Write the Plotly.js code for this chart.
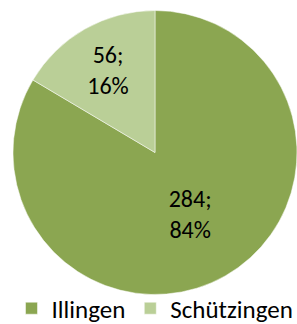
<!DOCTYPE html>
<html>
<head>
<meta charset="utf-8">
<script src="https://cdn.plot.ly/plotly-3.0.1.min.js"></script>
<style>html,body{margin:0;padding:0;background:#fff;}#chart{width:297px;height:324px;}</style>
</head>
<body>
<div id="chart"></div>
<script>
const labels = ["Illingen", "Schützingen"];
const values = [284, 56];
const percents = [84, 16];
const colors = ["#8BA651", "#BACF97"];

const texts = values.map((v, i) => v + ";<br>" + percents[i] + "%");

const data = [{
  type: "pie",
  labels: labels,
  values: values,
  text: texts,
  textinfo: "text",
  textposition: "inside",
  insidetextorientation: "horizontal",
  sort: false,
  direction: "clockwise",
  rotation: 0,
  hole: 0,
  marker: {colors: colors, line: {color: "#ffffff", width: 0.5}},
  textfont: {family: "Carlito, Calibri, 'Liberation Sans', Arial, sans-serif", size: 24, color: "#000000"},
  domain: {x: [0, 1], y: [0, 1]}
}];

const layout = {
  width: 297,
  height: 324,
  margin: {l: 13, r: 0, t: 10, b: 29, autoexpand: false},
  paper_bgcolor: "#ffffff",
  showlegend: true,
  legend: {
    orientation: "h",
    x: 0.5, xanchor: "center",
    yref: "container", y: 0.048, yanchor: "middle",
    bgcolor: "rgba(0,0,0,0)",
    font: {family: "Carlito, Calibri, 'Liberation Sans', Arial, sans-serif", size: 25, color: "#000000"},
    itemwidth: 30
  }
};

Plotly.newPlot("chart", data, layout, {displayModeBar: false, staticPlot: true});
</script>
</body>
</html>
